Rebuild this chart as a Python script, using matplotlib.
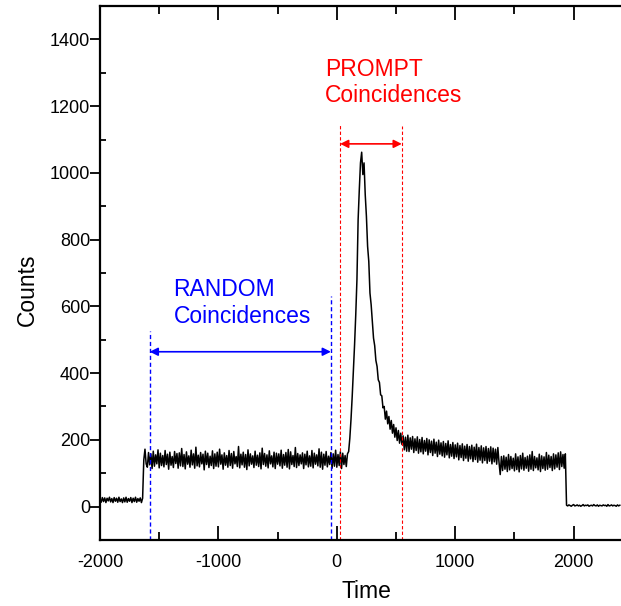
import numpy as np
import matplotlib
matplotlib.use('Agg')
import matplotlib.pyplot as plt

plt.rcParams['font.family'] = ['Liberation Sans', 'DejaVu Sans']
plt.rcParams['axes.unicode_minus'] = False

# counts every 10 time units, from -2000 up to 2390
low_start = [22, 13, 27, 15, 26, 12, 25, 17, 28, 14,
             24, 12, 27, 16, 25, 13, 28, 15, 23, 12,
             26, 14, 28, 13, 24, 16, 27, 12, 25, 15,
             28, 13, 24, 16, 26, 12, 25, 140, 172, 128]
random_part = [118, 162, 125, 158, 114, 166, 121, 155, 128, 170,
               116, 160, 123, 153, 119, 168, 126, 157, 112, 163,
               124, 150, 117, 165, 129, 159, 115, 161, 122, 174,
               120, 156, 113, 164, 127, 152, 118, 169, 125, 158,
               115, 178, 122, 154, 119, 162, 128, 157, 110, 166,
               126, 160, 117, 151, 123, 167, 114, 158, 121, 163,
               119, 172, 127, 155, 112, 161, 124, 153, 118, 168,
               123, 159, 115, 165, 128, 150, 120, 180, 116, 157,
               125, 163, 118, 156, 111, 170, 122, 158, 127, 152,
               117, 166, 124, 154, 120, 161, 113, 175, 126, 159,
               121, 155, 116, 167, 128, 152, 119, 163, 114, 160,
               127, 158, 122, 169, 115, 156, 124, 162, 118, 171,
               113, 164, 126, 153, 120, 177, 117, 159, 123, 155,
               128, 161, 114, 157, 125, 166, 119, 152, 121, 168,
               116, 160, 127, 155, 122, 173, 118, 163, 112, 157,
               124, 165, 119, 151, 126, 162, 115, 158, 121, 169,
               118, 156, 123, 164, 114, 160, 126, 153, 120, 158]
prompt_peak = [165, 205, 262, 330, 405, 485, 575, 680, 860, 950,
               1030, 1062, 995, 1030, 935, 870, 780, 735, 640, 605,
               555, 505, 482, 438, 420, 380, 372, 335, 332, 296,
               300, 262, 286, 248, 270, 232, 258, 220, 246, 208,
               236, 198, 228, 190, 220, 186]
tail = [212, 170, 208, 166,
        214, 165, 206, 172, 210, 162, 203, 168, 209, 160,
        201, 164, 207, 158, 198, 166, 204, 155, 200, 162,
        196, 153, 202, 160, 193, 150, 199, 157, 191, 152,
        195, 148, 189, 155, 197, 146, 186, 151, 192, 144,
        185, 149, 190, 140, 183, 147, 188, 138, 181, 145,
        186, 136, 180, 143, 184, 135, 178, 141, 187, 133,
        177, 139, 182, 131, 176, 138, 180, 130, 174, 136,
        179, 128, 175, 134, 172, 127, 177, 132]
late = [96, 150,
        108, 152, 112, 148, 105, 156, 110, 150, 114, 145,
        107, 158, 111, 149, 104, 153, 113, 160, 109, 147,
        115, 151, 106, 155, 112, 165, 108, 150, 116, 146,
        110, 157, 105, 152, 114, 149, 109, 162, 112, 154,
        117, 150, 108, 158, 113, 155, 118, 161, 111, 164,
        120, 156, 115, 158]
end_part = [4, 2, 5, 3, 1, 4, 6, 2, 3, 5,
            2, 4, 1, 3, 6, 2, 4, 3, 5, 1,
            3, 4, 2, 6, 3, 2, 5, 1, 4, 3,
            2, 5, 3, 4, 1, 6, 2, 3, 5, 2,
            4, 3, 1, 5, 2, 4]

counts = np.array(low_start + random_part + prompt_peak + tail + late + end_part)
time = -2000 + 10 * np.arange(len(counts))

random_window = [-1580, -50]
prompt_window = [28, 549]

fig = plt.figure(figsize=(6.21, 6.06), dpi=100)
ax = fig.add_axes([0.161, 0.109, 0.839, 0.881])

ax.plot(time, counts, color='black', lw=1.1)

# window markers
ax.plot([random_window[0]] * 2, [-100, 525], color='blue', ls=(0, (3, 2)), lw=1)
ax.plot([random_window[1]] * 2, [-100, 630], color='blue', ls=(0, (3, 2)), lw=1)
ax.plot([prompt_window[0]] * 2, [-100, 1145], color='red', ls=(0, (3, 2)), lw=0.8)
ax.plot([prompt_window[1]] * 2, [-100, 1140], color='red', ls=(0, (3, 2)), lw=0.8)

ax.annotate('', xy=(random_window[0], 464), xytext=(random_window[1], 464),
            arrowprops=dict(arrowstyle='<|-|>', color='blue', lw=1.2,
                            mutation_scale=12, shrinkA=0, shrinkB=0))
ax.annotate('', xy=(prompt_window[0], 1087), xytext=(prompt_window[1], 1087),
            arrowprops=dict(arrowstyle='<|-|>', color='red', lw=1.2,
                            mutation_scale=12, shrinkA=0, shrinkB=0))

ax.text(-1380, 551, 'RANDOM\nCoincidences', color='blue', fontsize=16.5,
        va='baseline', ha='left', linespacing=1.22)
ax.text(-100, 1211, 'PROMPT\nCoincidences', color='red', fontsize=16.5,
        va='baseline', ha='left', linespacing=1.22)

ax.set_xlim(-2000, 2400)
ax.set_ylim(-100, 1500)
ax.set_xticks([-2000, -1000, 0, 1000, 2000])
ax.set_xticks([-1500, -500, 500, 1500], minor=True)
ax.set_yticks(np.arange(0, 1401, 200))
ax.set_yticks(np.arange(-100, 1500, 200), minor=True)

ax.tick_params(axis='x', which='major', direction='in', length=10, width=1.3,
               top=True, labelsize=13, pad=10)
ax.tick_params(axis='x', which='minor', direction='in', length=5.5, width=1.3, top=True)
ax.tick_params(axis='y', which='major', direction='out', length=7, width=1.3,
               labelsize=13, pad=0)
ax.tick_params(axis='y', which='minor', direction='in', length=4.5, width=1.3)

for side in ['left', 'bottom', 'top']:
    ax.spines[side].set_linewidth(1.6)
ax.spines['right'].set_visible(False)

ax.set_xlabel('Time', fontsize=16.5)
ax.set_ylabel('Counts', fontsize=16.5)
ax.xaxis.set_label_coords(0.512, -0.075)
ax.yaxis.set_label_coords(-0.117, 0.468)

fig.savefig('out.png', dpi=100)
